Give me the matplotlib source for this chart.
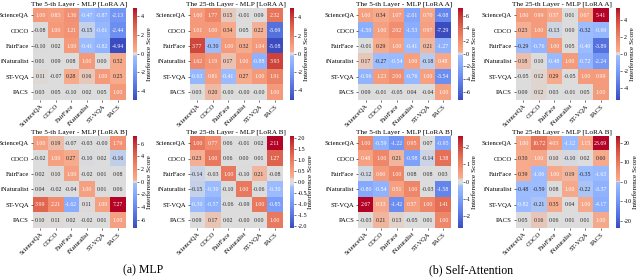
import numpy as np
import matplotlib
matplotlib.use("Agg")
import matplotlib.pyplot as plt
from matplotlib.colors import ListedColormap, Normalize, to_rgb
from matplotlib.ticker import MultipleLocator, FormatStrFormatter

tasks = ["ScienceQA", "COCO", "FairFace", "iNaturalist", "ST-VQA", "PACS"]

mlp_l5_A = [[1.00, 0.83, 1.36, -0.47, -0.87, -2.13],
            [-0.08, 1.00, 1.21, -0.15, -0.61, -2.44],
            [-0.10, 0.02, 1.00, -0.41, -0.82, -4.94],
            [0.01, 0.09, 0.08, 1.00, 0.00, 0.32],
            [0.11, -0.07, 0.28, 0.16, 1.00, 0.25],
            [0.03, 0.05, -0.10, 0.02, 0.05, 1.00]]
mlp_l25_A = [[1.00, 1.77, 0.15, -0.01, 0.09, 2.32],
             [1.01, 1.00, 0.34, 0.05, 0.22, -3.69],
             [3.77, -0.30, 1.00, 0.32, 1.04, -5.08],
             [1.62, 1.19, 0.17, 1.00, -0.88, 3.93],
             [-0.63, 0.81, -0.41, 0.27, 1.00, 1.91],
             [0.03, 0.20, -0.00, -0.00, -0.00, 1.00]]
attn_l5_A = [[1.00, 0.34, 1.07, -2.01, 0.70, -4.08],
             [-1.50, 1.00, 2.02, -1.53, 0.97, -7.29],
             [-0.01, 0.29, 1.00, -0.41, 0.21, -1.27],
             [0.17, -0.27, -0.54, 1.00, -0.18, 0.48],
             [-0.96, 1.23, 2.00, -0.76, 1.00, -3.54],
             [0.09, -0.01, -0.05, 0.04, -0.04, 1.00]]
attn_l25_A = [[1.00, 0.99, 0.37, 0.01, 0.67, 5.41],
              [0.23, 1.00, -0.13, 0.00, -0.32, -0.69],
              [-0.29, -0.76, 1.00, 0.05, -0.40, -3.89],
              [0.18, 0.10, -0.48, 1.00, -0.72, -2.24],
              [-0.05, 0.12, 0.29, -0.05, 1.00, 0.99],
              [0.09, 0.12, 0.03, -0.01, 0.05, 1.00]]
mlp_l5_B = [[1.00, 0.19, -0.07, -0.03, -0.00, 1.79],
            [-0.02, 1.00, 0.27, -0.10, 0.02, -0.16],
            [0.02, 0.10, 1.00, -0.02, 0.01, 0.08],
            [0.04, -0.02, -0.04, 1.00, 0.01, 0.06],
            [3.99, 2.21, -1.62, 0.11, 1.00, 7.27],
            [0.10, 0.11, 0.02, -0.02, 0.01, 1.00]]
mlp_l25_B = [[1.00, 0.77, 0.06, -0.01, 0.02, 2.11],
             [0.23, 1.00, 0.06, 0.00, 0.01, 1.27],
             [-0.14, -0.03, 1.00, -0.10, 0.21, -0.08],
             [-0.15, -0.30, -0.10, 1.00, -0.06, -0.30],
             [-0.30, -0.57, -0.06, -0.09, 1.00, -0.85],
             [0.09, 0.17, 0.02, -0.00, 0.00, 1.00]]
attn_l5_B = [[1.00, -0.59, -1.22, 0.95, 0.07, -0.95],
             [0.48, 1.00, 0.21, -0.98, -0.14, 1.38],
             [-0.12, 0.60, 1.00, 0.08, 0.08, 0.03],
             [-0.80, -0.54, 0.51, 1.00, -0.03, -1.58],
             [2.67, 0.33, -1.42, 0.57, 1.00, 1.41],
             [-0.03, 0.21, 0.13, -0.05, 0.01, 1.00]]
attn_l25_B = [[1.00, 10.72, 4.03, -1.12, 1.15, 23.69],
              [0.30, 1.00, 0.10, -0.10, 0.02, 0.60],
              [0.39, -1.06, 1.00, 0.19, -0.35, -1.63],
              [-0.48, -0.59, 0.08, 1.00, -0.22, -3.37],
              [-0.82, -0.21, 0.35, 0.04, 1.00, -4.17],
              [0.05, 0.16, 0.06, 0.01, 0.01, 1.00]]

titles = ["The 5-th Layer - MLP [LoRA A]", "The 25-th Layer - MLP [LoRA A]",
          "The 5-th Layer - MLP [LoRA A]", "The 25-th Layer - MLP [LoRA A]",
          "The 5-th Layer - MLP [LoRA B]", "The 25-th Layer - MLP [LoRA B]",
          "The 5-th Layer - MLP [LoRA B]", "The 25-th Layer - MLP [LoRA B]"]
panels = [mlp_l5_A, mlp_l25_A, attn_l5_A, attn_l25_A,
          mlp_l5_B, mlp_l25_B, attn_l5_B, attn_l25_B]
cbar_steps = [2, 2, 2, 2, 2, 0.5, 1, 10]
captions = ["(a) MLP", "(b) Self-Attention"]

FONT = ["Liberation Serif", "DejaVu Serif"]
plt.rcParams["font.family"] = FONT

cw = plt.get_cmap("coolwarm")
GRAY = np.array(to_rgb("#dcdcdc"))


def make_cmap(vmax, g0=0.10, g1=0.24):
    n = 1024
    xs = np.linspace(-vmax, vmax, n)
    cols = []
    for v in xs:
        a = abs(v)
        s = 1 if v >= 0 else -1
        if a <= g0:
            c = GRAY
        else:
            edge = np.array(cw(0.5 + s * 0.2)[:3])
            if a < g1:
                t = (a - g0) / (g1 - g0)
                c = GRAY * (1 - t) + edge * t
            else:
                r = (a - g1) / (vmax - g1)
                c = np.array(cw(0.5 + s * (0.2 + 0.3 * r))[:3])
        cols.append(c)
    return ListedColormap(np.array(cols))


fig = plt.figure(figsize=(6.4, 2.8), dpi=100)
W, H = 640.0, 280.0

lefts = [32.5, 189.5, 358, 515.5]
tops = [7.5, 135.5]
hw, hh = 93.0, 92.5

for idx, (data, title) in enumerate(zip(panels, titles)):
    r, c = divmod(idx, 4)
    L, T = lefts[c], tops[r]
    ax = fig.add_axes([L / W, 1 - (T + hh) / H, hw / W, hh / H])
    cax = fig.add_axes([(L + hw + 7) / W, 1 - (T + hh) / H, 4.5 / W, hh / H])
    arr = np.array(data)
    vmax = np.abs(arr).max()
    cmap = make_cmap(vmax)
    norm = Normalize(-vmax, vmax)
    im = ax.imshow(arr, cmap=cmap, norm=norm, aspect="auto", interpolation="nearest")
    for i in range(arr.shape[0]):
        for j in range(arr.shape[1]):
            rgb = np.array(cmap(norm(arr[i, j]))[:3])
            lin = np.where(rgb <= 0.03928, rgb / 12.92, ((rgb + 0.055) / 1.055) ** 2.4)
            lum = 0.2126 * lin[0] + 0.7152 * lin[1] + 0.0722 * lin[2]
            col = "#262626" if lum > 0.5 else "white"
            ax.text(j, i, f"{arr[i, j]:.2f}", ha="center", va="center",
                    fontsize=4.2, color=col)
    ax.set_xticks(range(len(tasks)))
    ax.set_yticks(range(len(tasks)))
    ax.set_xticklabels(tasks, rotation=45, ha="right", rotation_mode="anchor", fontsize=4.8)
    ax.set_yticklabels(tasks, fontsize=4.8)
    ax.tick_params(length=1.5, width=0.4, pad=1)
    for sp in ax.spines.values():
        sp.set_visible(False)
    ax.set_title(title, fontsize=5.2, pad=1.5)
    cb = fig.colorbar(im, cax=cax)
    cb.outline.set_visible(False)
    step = cbar_steps[idx]
    cb.ax.yaxis.set_major_locator(MultipleLocator(step))
    cb.ax.yaxis.set_major_formatter(FormatStrFormatter("%.1f" if step < 1 else "%d"))
    cb.ax.tick_params(labelsize=4.3, length=1.5, width=0.4, pad=1)
    cb.set_label("Interference Score", fontsize=5.2, labelpad=1)

fig.text(143 / W, 1 - 270 / H, captions[0], ha="center", va="center", fontsize=8.5)
fig.text(471 / W, 1 - 270 / H, captions[1], ha="center", va="center", fontsize=8.5)

fig.savefig("out.png", dpi=100)
